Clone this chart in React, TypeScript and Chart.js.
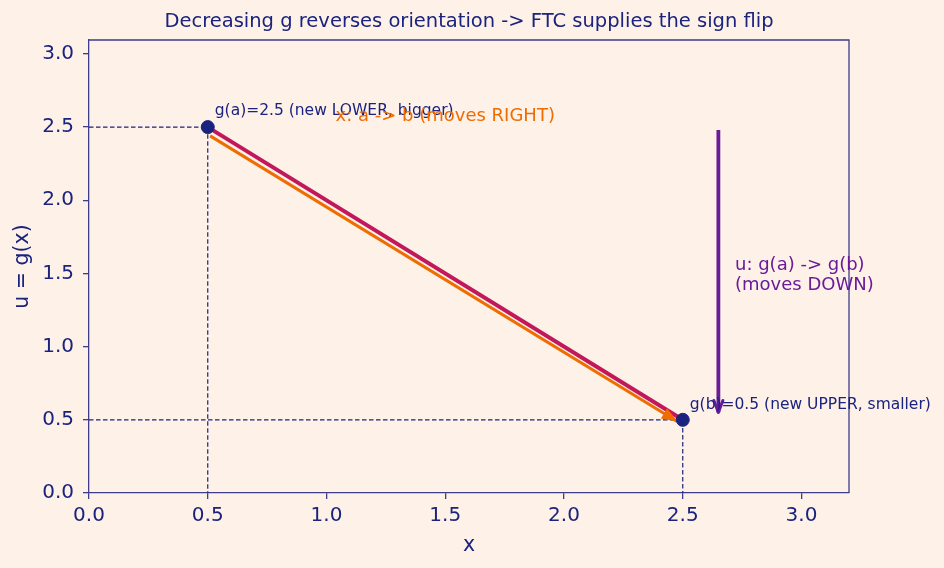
import React, { useEffect, useRef } from 'react';
import { Chart, registerables } from 'chart.js';

Chart.register(...registerables);

// ---- data ----
const TITLE = 'Decreasing g reverses orientation -> FTC supplies the sign flip';
const X_LABEL = 'x';
const Y_LABEL = 'u = g(x)';
const X_RANGE = [0, 3.2];
const Y_RANGE = [0, 3.095];
const TICK_STEP = 0.5;

const pointX = [0.5, 2.5];
const pointY = [2.5, 0.5];

const orangeArrowX = [0.51, 2.475];
const orangeArrowY = [2.44, 0.49];

const purpleArrowX = [2.65, 2.65];
const purpleArrowY = [2.48, 0.55];

const labelTexts = [
  'g(a)=2.5 (new LOWER, bigger)',
  'g(b)=0.5 (new UPPER, smaller)',
  'x: a -> b (moves RIGHT)',
  'u: g(a) -> g(b)\n(moves DOWN)',
];
const labelX = [0.5, 2.5, 1.5, 2.72];
const labelY = [2.5, 0.5, 2.575, 1.487];

// ---- styles ----
const BG = '#fef1e7';
const NAVY = '#1a237e';
const AXIS = '#3d3d8c';
const CRIMSON = '#c2185b';
const ORANGE = '#ef6c00';
const PURPLE = '#6a1b9a';
const FONT = "'DejaVu Sans', sans-serif";

const labelStyles = [
  { dx: 7, dy: -16, size: 15.5, color: NAVY, align: 'left' as CanvasTextAlign },
  { dx: 7, dy: -15, size: 15.5, color: NAVY, align: 'left' as CanvasTextAlign },
  { dx: 0, dy: 0, size: 18, color: ORANGE, align: 'center' as CanvasTextAlign },
  { dx: 0, dy: 0, size: 18, color: PURPLE, align: 'left' as CanvasTextAlign },
];

function toPts(xs: number[], ys: number[]) {
  return xs.map((x, i) => ({ x, y: ys[i] }));
}

const overlayPlugin = {
  id: 'overlay',
  afterDatasetDraw(chart: any, args: any) {
    const ds = chart.data.datasets[args.index];
    const head = ds._head;
    if (!head) return;
    const meta = chart.getDatasetMeta(args.index);
    const n = meta.data.length;
    const p1 = meta.data[n - 2];
    const p2 = meta.data[n - 1];
    const ang = Math.atan2(p2.y - p1.y, p2.x - p1.x);
    const ctx = chart.ctx;
    ctx.save();
    ctx.translate(p2.x, p2.y);
    ctx.rotate(ang);
    if (head === 'filled') {
      ctx.fillStyle = ds.borderColor;
      ctx.beginPath();
      ctx.moveTo(1, 0);
      ctx.lineTo(-15, -6);
      ctx.lineTo(-15, 6);
      ctx.closePath();
      ctx.fill();
    } else {
      ctx.strokeStyle = ds.borderColor;
      ctx.lineWidth = 3;
      ctx.lineCap = 'round';
      ctx.lineJoin = 'round';
      ctx.beginPath();
      ctx.moveTo(-12, -4.5);
      ctx.lineTo(0, 0);
      ctx.lineTo(-12, 4.5);
      ctx.stroke();
    }
    ctx.restore();
  },
  afterDraw(chart: any) {
    const { ctx, chartArea: ca, scales } = chart;
    ctx.save();
    // top & right frame
    ctx.strokeStyle = AXIS;
    ctx.lineWidth = 1.3;
    ctx.beginPath();
    ctx.moveTo(ca.left, ca.top);
    ctx.lineTo(ca.right, ca.top);
    ctx.lineTo(ca.right, ca.bottom);
    ctx.stroke();
    // title
    ctx.fillStyle = NAVY;
    ctx.font = `19.5px ${FONT}`;
    ctx.textAlign = 'center';
    ctx.textBaseline = 'middle';
    ctx.fillText(TITLE, (ca.left + ca.right) / 2, 22);
    // annotations
    labelTexts.forEach((t, i) => {
      const st = labelStyles[i];
      const px = scales.x.getPixelForValue(labelX[i]) + st.dx;
      const py = scales.y.getPixelForValue(labelY[i]) + st.dy;
      ctx.fillStyle = st.color;
      ctx.font = `${st.size}px ${FONT}`;
      ctx.textAlign = st.align;
      ctx.textBaseline = 'middle';
      const lines = t.split('\n');
      const lh = st.size * 1.15;
      const y0 = py - ((lines.length - 1) * lh) / 2;
      lines.forEach((ln, k) => ctx.fillText(ln, px, y0 + k * lh));
    });
    ctx.restore();
  },
};

export default function App() {
  const ref = useRef<HTMLCanvasElement | null>(null);

  useEffect(() => {
    document.body.style.margin = '0';
    document.body.style.background = BG;
    const canvas = ref.current!;
    const guideA = [
      { x: X_RANGE[0], y: pointY[0] },
      { x: pointX[0], y: pointY[0] },
      { x: pointX[0], y: Y_RANGE[0] },
    ];
    const guideB = [
      { x: X_RANGE[0], y: pointY[1] },
      { x: pointX[1], y: pointY[1] },
      { x: pointX[1], y: Y_RANGE[0] },
    ];
    const tickCfg = (pad: number) => ({
      stepSize: TICK_STEP,
      includeBounds: false,
      color: NAVY,
      font: { size: 20, family: FONT },
      padding: pad,
      callback: (v: any) => Number(v).toFixed(1),
    });
    const gridCfg = {
      drawOnChartArea: false,
      drawTicks: true,
      tickLength: 6,
      color: AXIS,
      tickColor: AXIS,
      lineWidth: 1.3,
    };
    const dashed = {
      borderColor: NAVY,
      borderWidth: 1.2,
      borderDash: [4.5, 2.5],
      showLine: true,
      pointRadius: 0,
    };
    const chart = new Chart(canvas, {
      type: 'scatter',
      data: {
        datasets: [
          {
            data: toPts(pointX, pointY),
            backgroundColor: NAVY,
            borderColor: NAVY,
            pointRadius: 6.5,
            showLine: false,
            order: 0,
          } as any,
          {
            data: toPts(purpleArrowX, purpleArrowY),
            borderColor: PURPLE,
            borderWidth: 3.8,
            showLine: true,
            pointRadius: 0,
            _head: 'open',
            order: 1,
          } as any,
          {
            data: toPts(orangeArrowX, orangeArrowY),
            borderColor: ORANGE,
            borderWidth: 3,
            showLine: true,
            pointRadius: 0,
            _head: 'filled',
            order: 2,
          } as any,
          {
            data: toPts(pointX, pointY),
            borderColor: CRIMSON,
            borderWidth: 4,
            showLine: true,
            pointRadius: 0,
            order: 3,
          } as any,
          { data: guideA, ...dashed, order: 4 } as any,
          { data: guideB, ...dashed, order: 5 } as any,
        ],
      },
      options: {
        animation: false,
        responsive: false,
        devicePixelRatio: 1,
        layout: { padding: { top: 40, right: 95, left: 0, bottom: 0 } },
        plugins: { legend: { display: false }, tooltip: { enabled: false } },
        scales: {
          x: {
            type: 'linear',
            min: X_RANGE[0],
            max: X_RANGE[1],
            ticks: tickCfg(5) as any,
            grid: gridCfg as any,
            border: { display: true, color: AXIS, width: 1.3 },
            title: {
              display: true,
              text: X_LABEL,
              color: NAVY,
              font: { size: 20.5, family: FONT },
              padding: { top: 0, bottom: 10 },
            },
            afterFit: (s: any) => {
              s.height = 75;
            },
          },
          y: {
            type: 'linear',
            min: Y_RANGE[0],
            max: Y_RANGE[1],
            ticks: tickCfg(9) as any,
            grid: gridCfg as any,
            border: { display: true, color: AXIS, width: 1.3 },
            title: {
              display: true,
              text: Y_LABEL,
              color: NAVY,
              font: { size: 20.5, family: FONT },
              padding: { top: 10, bottom: 0 },
            },
            afterFit: (s: any) => {
              s.width = 89;
            },
          },
        },
      } as any,
      plugins: [overlayPlugin],
    });
    return () => chart.destroy();
  }, []);

  return (
    <div style={{ position: 'absolute', left: 0, top: 0, width: 944, height: 568, background: BG }}>
      <canvas ref={ref} width={944} height={568} style={{ display: 'block' }} />
    </div>
  );
}
